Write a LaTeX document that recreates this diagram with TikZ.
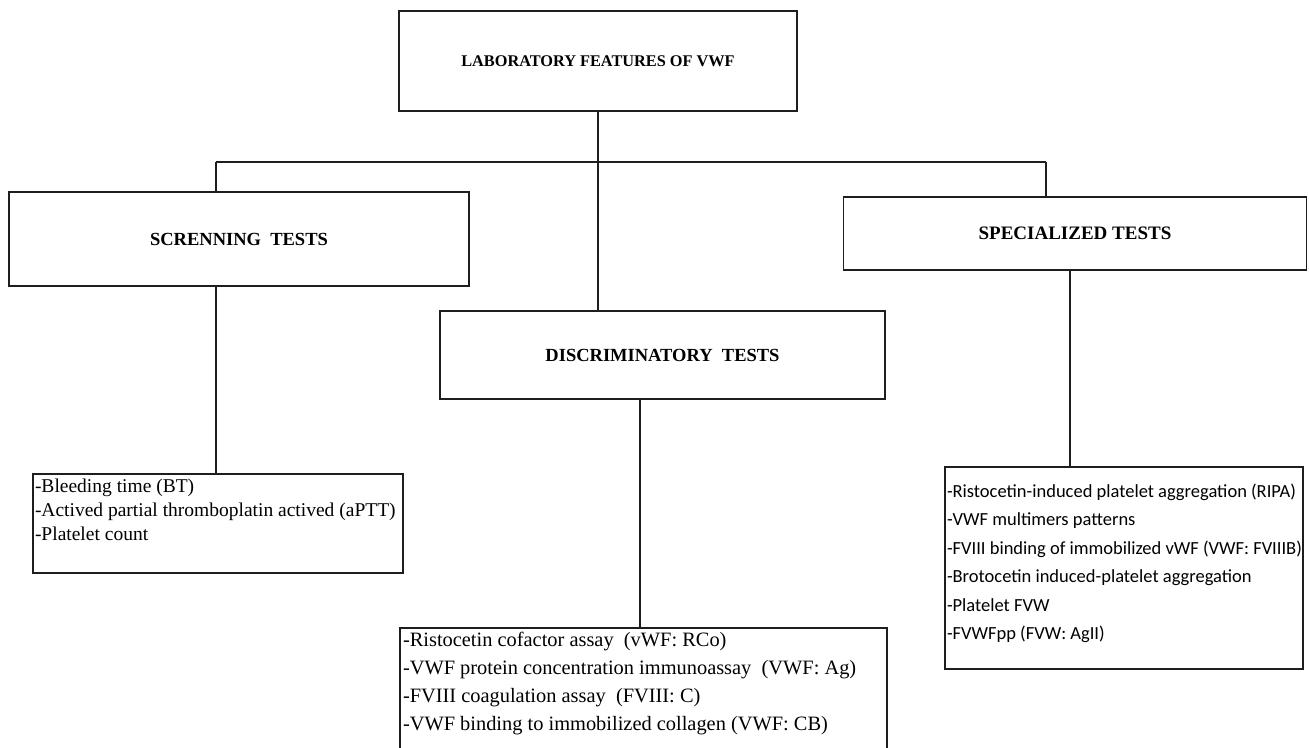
\documentclass[tikz,border=0pt]{standalone}
\usepackage{fontspec}
\setmainfont{Liberation Serif}
\newfontfamily\listsans{Carlito}
\usepackage{tikz}
\usetikzlibrary{positioning,calc}
\definecolor{LineBlack}{RGB}{30,30,30}
\tikzset{
  headbox/.style={draw=LineBlack,line width=1.7pt,fill=white,inner sep=0pt,align=center,font=\bfseries\fontsize{18.5}{22}\selectfont},
  listbox/.style={draw=LineBlack,line width=1.7pt,fill=white,inner sep=0pt},
  link/.style={draw=LineBlack,line width=1.7pt}
}
\newcommand{\listtext}[3]{\parbox[c][#2][t]{#1}{\raggedright#3}}

\begin{document}
\begin{tikzpicture}[x=1pt,y=-1pt]
\useasboundingbox (0,0) rectangle (1309,747);

% Heading boxes.
\node[headbox,minimum width=398pt,minimum height=100pt,font=\bfseries\fontsize{16.3}{20}\selectfont] (lab) at (598,61) {LABORATORY FEATURES OF VWF};
\node[headbox,minimum width=460pt,minimum height=94pt] (scr) at (239,239) {SCRENNING\ \ TESTS};
\node[headbox,minimum width=445pt,minimum height=88pt] (dis) at (662.5,355) {DISCRIMINATORY\ \ TESTS};
\node[headbox,minimum width=463pt,minimum height=73pt,font=\bfseries\fontsize{19}{22}\selectfont] (spe) at (1075,233.5) {SPECIALIZED TESTS};

% Test lists.
\node[listbox] (scrlist) at (218,523.5) {\listtext{370pt}{99pt}{\fontsize{19.5}{24}\selectfont\vspace{5pt}\hspace*{2pt}-Bleeding time (BT)\\
\hspace*{2pt}-Actived partial thromboplatin actived (aPTT)\\
\hspace*{2pt}-Platelet count}};
\node[listbox] (dislist) at (643.5,694) {\listtext{487pt}{132pt}{\fontsize{20.4}{28}\selectfont\vspace{4pt}\hspace*{3pt}-Ristocetin cofactor assay\ \ (vWF: RCo)\\
\hspace*{3pt}-VWF protein concentration immunoassay\ \ (VWF: Ag)\\
\hspace*{3pt}-FVIII coagulation assay\ \ (FVIII: C)\\
\hspace*{3pt}-VWF binding to immobilized collagen (VWF: CB)}};
\node[listbox] (spelist) at (1124,568) {\listtext{358pt}{202pt}{\listsans\fontsize{18.5}{28.4}\selectfont\vspace{17pt}\hspace*{2pt}-Ristocetin-induced platelet aggregation (RIPA)\\
\hspace*{2pt}-VWF multimers patterns\\
\hspace*{2pt}-FVIII binding of immobilized vWF (VWF: FVIIIB)\\
\hspace*{2pt}-Brotocetin induced-platelet aggregation\\
\hspace*{2pt}-Platelet FVW\\
\hspace*{2pt}-FVWFpp (FVW: AgII)}};

% Branch bus under the main box.
\coordinate (busl) at (216,162);
\coordinate (busr) at (1046,162);
\coordinate (disdrop) at (640,0);
\coordinate (spedrop) at (1070,0);
\draw[link] (busl) -- (busr);
\draw[link] (lab.south) -- (lab.south |- dis.north);
\draw[link] (busl) -- (busl |- scr.north);
\draw[link] (busr) -- (busr |- spe.north);

% Drops to the lists.
\draw[link] (busl |- scr.south) -- (busl |- scrlist.north);
\draw[link] (disdrop |- dis.south) -- (disdrop |- dislist.north);
\draw[link] (spedrop |- spe.south) -- (spedrop |- spelist.north);
\end{tikzpicture}
\end{document}
